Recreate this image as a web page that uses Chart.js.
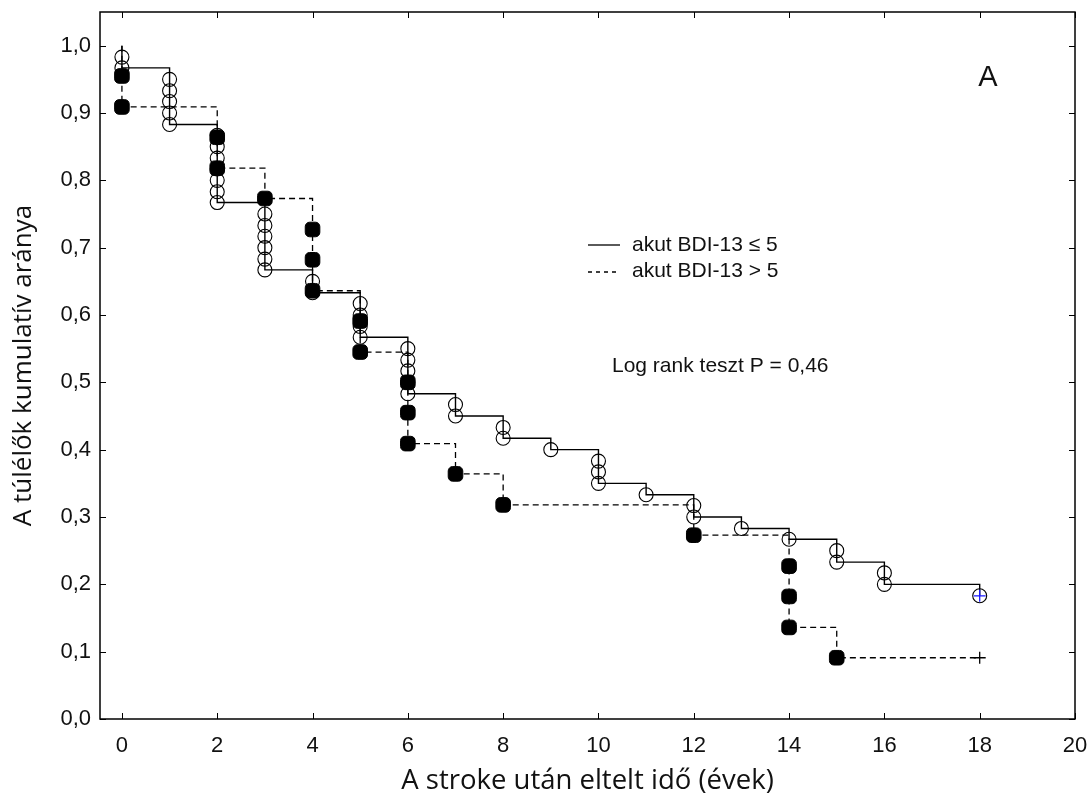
<!DOCTYPE html>
<html>
<head>
<meta charset="utf-8">
<script src="https://cdn.jsdelivr.net/npm/chart.js@4/dist/chart.umd.min.js"></script>
<style>
  html, body { margin: 0; padding: 0; background: #fff; }
  #wrap { width: 1091px; height: 802px; }
</style>
</head>
<body>
<div id="wrap"><canvas id="kmChart"></canvas></div>
<script>
// Tengelyek
const xTicks = [0, 2, 4, 6, 8, 10, 12, 14, 16, 18, 20];
const yTicks = [0.0, 0.1, 0.2, 0.3, 0.4, 0.5, 0.6, 0.7, 0.8, 0.9, 1.0];

// akut BDI-13 <= 5 : esemenyek (ev, tulelesi arany)
const lowTimes = [0, 0, 1, 1, 1, 1, 1, 2, 2, 2, 2, 2, 2, 2, 3, 3, 3, 3, 3, 3, 4, 4,
  5, 5, 5, 5, 6, 6, 6, 6, 6, 7, 7, 8, 8, 9, 10, 10, 10, 11, 12, 12, 13, 14, 15, 15, 16, 16, 18];
const lowSurv = [0.983, 0.967, 0.950, 0.933, 0.917, 0.900, 0.883, 0.867, 0.850, 0.833, 0.817,
  0.800, 0.783, 0.767, 0.750, 0.733, 0.717, 0.700, 0.683, 0.667, 0.650, 0.633,
  0.617, 0.600, 0.583, 0.567, 0.550, 0.533, 0.517, 0.500, 0.483, 0.467, 0.450, 0.433, 0.417,
  0.400, 0.383, 0.367, 0.350, 0.333, 0.317, 0.300, 0.283, 0.267, 0.250, 0.233, 0.217, 0.200, 0.183];
const lowCensT = [18];
const lowCensS = [0.183];

// akut BDI-13 > 5
const highTimes = [0, 0, 2, 2, 3, 4, 4, 4, 5, 5, 6, 6, 6, 7, 8, 12, 14, 14, 14, 15];
const highSurv = [0.955, 0.909, 0.864, 0.818, 0.773, 0.727, 0.682, 0.636, 0.591, 0.545,
  0.500, 0.455, 0.409, 0.364, 0.318, 0.273, 0.227, 0.182, 0.136, 0.091];
const highCensT = [18];
const highCensS = [0.091];

const pts = (t, s) => t.map((v, i) => ({ x: v, y: s[i] }));
// lepcsos gorbe: 1,0-rol indul, esemenyek, majd cenzoralt vege
const steps = (t, s, ct, cs) => [{ x: 0, y: 1 }].concat(pts(t, s), pts(ct, cs));

const fmt = v => v.toFixed(1).replace('.', ',');
const txtColor = '#111';
const tickFont = { family: '"Liberation Sans", Arial, sans-serif', size: 22 };

// keret, befele allo osztasok, felirat
const decor = {
  id: 'decor',
  afterDraw(chart) {
    const { ctx, chartArea: a, scales: { x, y } } = chart;
    ctx.save();
    ctx.strokeStyle = '#000';
    ctx.lineWidth = 1.5;
    ctx.strokeRect(a.left, a.top, a.right - a.left, a.bottom - a.top);
    ctx.lineWidth = 1;
    ctx.beginPath();
    xTicks.forEach(v => {
      const px = Math.round(x.getPixelForValue(v)) + 0.5;
      ctx.moveTo(px, a.bottom); ctx.lineTo(px, a.bottom - 6);
      ctx.moveTo(px, a.top); ctx.lineTo(px, a.top + 6);
    });
    yTicks.forEach(v => {
      const py = Math.round(y.getPixelForValue(v)) + 0.5;
      ctx.moveTo(a.left, py); ctx.lineTo(a.left + 6, py);
      ctx.moveTo(a.right, py); ctx.lineTo(a.right - 6, py);
    });
    ctx.stroke();

    // jelmagyarazat
    ctx.lineWidth = 1.3;
    ctx.beginPath();
    ctx.moveTo(588, 245); ctx.lineTo(620, 245);
    ctx.stroke();
    ctx.setLineDash([4, 4]);
    ctx.beginPath();
    ctx.moveTo(588, 272); ctx.lineTo(620, 272);
    ctx.stroke();
    ctx.setLineDash([]);

    ctx.fillStyle = txtColor;
    ctx.textBaseline = 'middle';
    ctx.textAlign = 'left';
    ctx.font = '21px "Liberation Sans", Arial, sans-serif';
    ctx.fillText('akut BDI-13 \u2264 5', 632, 245);
    ctx.fillText('akut BDI-13 > 5', 632, 271);
    ctx.fillText('Log rank teszt P = 0,46', 612, 366);
    ctx.font = '29px "Liberation Sans", Arial, sans-serif';
    ctx.textAlign = 'center';
    ctx.fillText('A', 988, 78);
    ctx.restore();
  }
};

new Chart(document.getElementById('kmChart'), {
  type: 'scatter',
  data: {
    datasets: [
      {
        label: 'akut BDI-13 \u2264 5',
        type: 'line',
        data: steps(lowTimes, lowSurv, lowCensT, lowCensS),
        stepped: true,
        borderColor: '#000',
        borderWidth: 1.4,
        pointRadius: 0,
        fill: false,
        order: 6
      },
      {
        label: 'akut BDI-13 > 5',
        type: 'line',
        data: steps(highTimes, highSurv, highCensT, highCensS),
        stepped: true,
        borderColor: '#000',
        borderWidth: 1.3,
        borderDash: [6, 4],
        pointRadius: 0,
        fill: false,
        order: 5
      },
      {
        label: 'esemeny (<= 5)',
        data: pts(lowTimes, lowSurv),
        pointStyle: 'circle',
        pointRadius: 7,
        borderColor: '#000',
        borderWidth: 1.1,
        backgroundColor: 'rgba(255,255,255,0)',
        order: 4
      },
      {
        label: 'esemeny (> 5)',
        data: pts(highTimes, highSurv),
        pointStyle: 'rectRounded',
        pointRadius: 8.5,
        borderColor: '#000',
        borderWidth: 1,
        backgroundColor: '#000',
        order: 3
      },
      {
        label: 'cenzoralt (<= 5)',
        data: pts(lowCensT, lowCensS),
        pointStyle: 'cross',
        pointRadius: 6,
        borderColor: '#1a1aff',
        borderWidth: 1.3,
        order: 2
      },
      {
        label: 'cenzoralt (> 5)',
        data: pts(highCensT, highCensS),
        pointStyle: 'cross',
        pointRadius: 6,
        borderColor: '#000',
        borderWidth: 1.3,
        order: 1
      }
    ]
  },
  options: {
    responsive: true,
    maintainAspectRatio: false,
    animation: false,
    layout: { padding: { top: 12, right: 16, left: 0, bottom: 0 } },
    plugins: {
      legend: { display: false },
      tooltip: { enabled: false }
    },
    scales: {
      x: {
        type: 'linear',
        min: -0.46,
        max: 20,
        afterBuildTicks: s => { s.ticks = xTicks.map(v => ({ value: v })); },
        afterFit: s => { s.height = 83; s.paddingLeft = 0; s.paddingRight = 0; },
        grid: { display: false, drawTicks: false },
        border: { display: false },
        ticks: {
          padding: 14,
          color: txtColor,
          font: tickFont,
          callback: v => String(v),
          maxRotation: 0
        },
        title: {
          display: true,
          text: 'A stroke után eltelt idő (évek)',
          color: txtColor,
          font: { family: '"Open Sans", "Liberation Sans", sans-serif', size: 27.5 },
          padding: { top: 0, bottom: 4 }
        }
      },
      y: {
        type: 'linear',
        min: 0,
        max: 1.05,
        afterBuildTicks: s => { s.ticks = yTicks.map(v => ({ value: v })); },
        afterFit: s => { s.width = 100; s.paddingTop = 0; s.paddingBottom = 0; },
        grid: { display: false, drawTicks: false },
        border: { display: false },
        ticks: {
          padding: 9,
          color: txtColor,
          font: tickFont,
          callback: v => fmt(v)
        },
        title: {
          display: true,
          text: 'A túlélők kumulatív aránya',
          color: txtColor,
          font: { family: '"Open Sans", "Liberation Sans", sans-serif', size: 26 },
          padding: { top: 8, bottom: 0 }
        }
      }
    }
  },
  plugins: [decor]
});
</script>
</body>
</html>
